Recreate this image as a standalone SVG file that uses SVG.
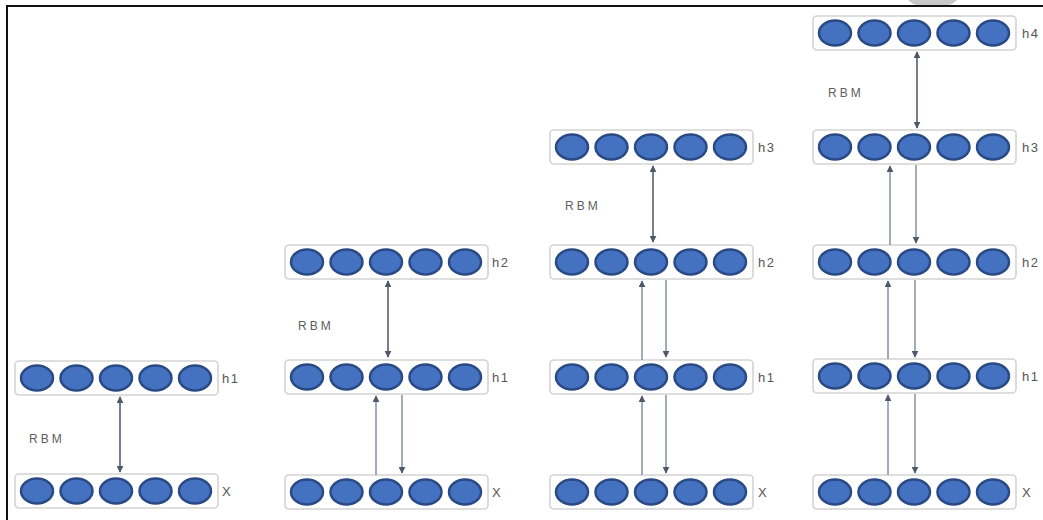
<svg xmlns="http://www.w3.org/2000/svg" width="1043" height="520" viewBox="0 0 1043 520">
<style>
.box{fill:#fff;stroke:#d4d4d4;stroke-width:1.6}
.n{fill:#4472c0;stroke:#2a4a85;stroke-width:2.5}
.lbl{font-family:"Liberation Sans",Arial,sans-serif;font-size:13px;fill:#555;letter-spacing:1.5px}
.rbm{font-family:"Liberation Sans",Arial,sans-serif;font-size:12px;fill:#606060;letter-spacing:3px}
.a{stroke:#5f6878;stroke-width:1.7;fill:none}
.a2{stroke:#8590a4;stroke-width:1.5;fill:none}
</style>
<defs>
<marker id="ah" viewBox="0 0 10 10" refX="9" refY="5" markerWidth="7" markerHeight="7" markerUnits="userSpaceOnUse" orient="auto-start-reverse"><path d="M0,0 L10,5 L0,10 Z" fill="#4f5868"/></marker>
<g id="layer">
<rect class="box" x="0" y="-17" width="203" height="34" rx="4"/>
<ellipse class="n" cx="22" cy="0" rx="16" ry="12.5"/>
<ellipse class="n" cx="61.5" cy="0" rx="16" ry="12.5"/>
<ellipse class="n" cx="101" cy="0" rx="16" ry="12.5"/>
<ellipse class="n" cx="140.5" cy="0" rx="16" ry="12.5"/>
<ellipse class="n" cx="180" cy="0" rx="16" ry="12.5"/>
</g>
</defs>
<rect width="1043" height="520" fill="#fff"/>
<path d="M908,0 L957,0 Q951,6 942,6 L923,6 Q914,6 908,0 Z" fill="#c8c8c8"/>
<path d="M7,520 V6 H1043" fill="none" stroke="#111" stroke-width="2"/>

<g id="col1">
<g id="c1-h1"><use href="#layer" x="15" y="378"/><text class="lbl" x="222" y="383">h1</text></g>
<g id="c1-x"><use href="#layer" x="15" y="491"/><text class="lbl" x="222" y="496">X</text></g>
<text class="rbm" x="29" y="443">RBM</text>
</g>
<g id="col2">
<g id="c2-h2"><use href="#layer" x="285" y="262"/><text class="lbl" x="492" y="267">h2</text></g>
<g id="c2-h1"><use href="#layer" x="285" y="377"/><text class="lbl" x="492" y="382">h1</text></g>
<g id="c2-x"><use href="#layer" x="285" y="492"/><text class="lbl" x="492" y="497">X</text></g>
<text class="rbm" x="298" y="330">RBM</text>
</g>
<g id="col3">
<g id="c3-h3"><use href="#layer" x="550" y="147"/><text class="lbl" x="758" y="152">h3</text></g>
<g id="c3-h2"><use href="#layer" x="550" y="262"/><text class="lbl" x="758" y="267">h2</text></g>
<g id="c3-h1"><use href="#layer" x="550" y="377"/><text class="lbl" x="758" y="382">h1</text></g>
<g id="c3-x"><use href="#layer" x="550" y="492"/><text class="lbl" x="758" y="497">X</text></g>
<text class="rbm" x="565" y="210">RBM</text>
</g>
<g id="col4">
<g id="c4-h4"><use href="#layer" x="813" y="33"/><text class="lbl" x="1022" y="38">h4</text></g>
<g id="c4-h3"><use href="#layer" x="813" y="147"/><text class="lbl" x="1022" y="152">h3</text></g>
<g id="c4-h2"><use href="#layer" x="813" y="262"/><text class="lbl" x="1022" y="267">h2</text></g>
<g id="c4-h1"><use href="#layer" x="813" y="376"/><text class="lbl" x="1022" y="381">h1</text></g>
<g id="c4-x"><use href="#layer" x="813" y="492"/><text class="lbl" x="1022" y="497">X</text></g>
<text class="rbm" x="828" y="97">RBM</text>
</g>

<g id="connectors">
<line class="a" x1="120" y1="397" x2="120" y2="472" marker-start="url(#ah)" marker-end="url(#ah)"/>

<line class="a" x1="388" y1="281" x2="388" y2="357" marker-start="url(#ah)" marker-end="url(#ah)"/>
<line class="a2" x1="376" y1="475" x2="376" y2="396" marker-end="url(#ah)"/>
<line class="a2" x1="402" y1="395" x2="402" y2="473" marker-end="url(#ah)"/>

<line class="a" x1="653" y1="166" x2="653" y2="242" marker-start="url(#ah)" marker-end="url(#ah)"/>
<line class="a2" x1="642" y1="360" x2="642" y2="281" marker-end="url(#ah)"/>
<line class="a2" x1="666" y1="280" x2="666" y2="357" marker-end="url(#ah)"/>
<line class="a2" x1="642" y1="475" x2="642" y2="396" marker-end="url(#ah)"/>
<line class="a2" x1="666" y1="395" x2="666" y2="473" marker-end="url(#ah)"/>

<line class="a" x1="917" y1="52" x2="917" y2="128" marker-start="url(#ah)" marker-end="url(#ah)"/>
<line class="a2" x1="890" y1="245" x2="890" y2="166" marker-end="url(#ah)"/>
<line class="a2" x1="916" y1="165" x2="916" y2="243" marker-end="url(#ah)"/>
<line class="a2" x1="888" y1="359" x2="888" y2="281" marker-end="url(#ah)"/>
<line class="a2" x1="915" y1="280" x2="915" y2="357" marker-end="url(#ah)"/>
<line class="a2" x1="888" y1="475" x2="888" y2="395" marker-end="url(#ah)"/>
<line class="a2" x1="915" y1="394" x2="915" y2="473" marker-end="url(#ah)"/>
</g>
</svg>
